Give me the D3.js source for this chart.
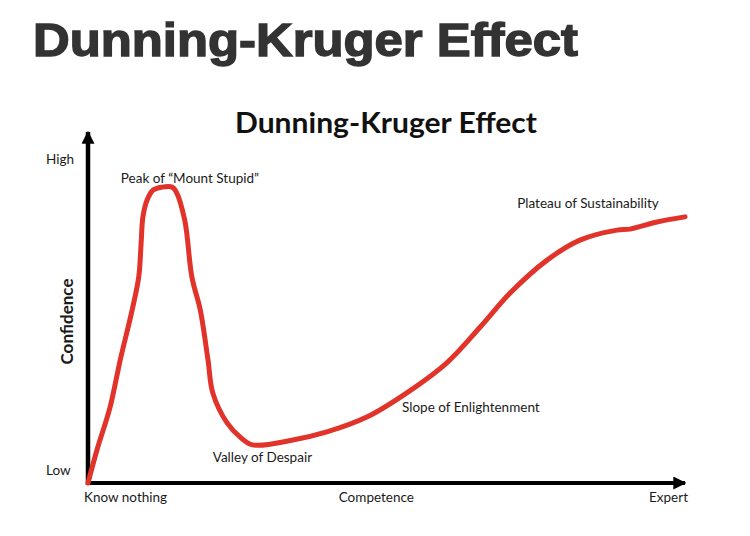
<!DOCTYPE html>
<html>
<head>
<meta charset="utf-8">
<script src="https://cdn.jsdelivr.net/npm/d3@7"></script>
<style>
  body { margin: 0; background: #fff; }
  svg { display: block; }
  .lbl { font-family: Lato, "Open Sans", sans-serif; font-size: 13.5px; fill: #1a1a1a; }
</style>
</head>
<body>
<svg width="750" height="536"></svg>
<script>
// curve (competence 0-100, confidence 0-100)
var competence = [0, 1.5, 3.7, 5.4, 7.4, 8.5, 8.9, 9.2, 9.9, 10.9, 12.4, 14.1, 14.7, 16.2, 17.4, 18.8, 20.1, 20.9, 23.3, 25.5, 27.6, 34.3, 40.0, 46.7, 53.4, 60.1, 65.7, 70.7, 76.9, 82.4, 88.6, 90.8, 95.3, 100];
var confidence = [0, 10.2, 23.5, 38.1, 53.6, 63.8, 74.3, 82.4, 87.6, 90.7, 91.6, 91.6, 90.4, 81.4, 63.8, 53.6, 38.1, 27.9, 18.6, 14.2, 11.8, 13.3, 15.8, 20.4, 27.9, 37.2, 48.3, 58.8, 69.0, 75.2, 78.3, 78.6, 80.8, 82.4];

var xTickLabels = ["Know nothing", "Competence", "Expert"];
var yTickLabels = ["Low", "High"];

// stage names and where they sit (data units)
var stageNames = ["Peak of \u201cMount Stupid\u201d", "Valley of Despair", "Slope of Enlightenment", "Plateau of Sustainability"];
var stageX = [5.5, 20.9, 52.6, 71.9];
var stageY = [92.9, 6.5, 22.0, 85.1];

var svg = d3.select("svg");

var x = d3.scaleLinear().domain([0, 100]).range([88, 685]),
    y = d3.scaleLinear().domain([0, 100]).range([483, 160]);

var data = competence.map(function(c, i) { return {c: c, v: confidence[i]}; });

// page heading
svg.append("text")
    .attr("x", 33)
    .attr("y", 56)
    .attr("textLength", 545)
    .attr("lengthAdjust", "spacingAndGlyphs")
    .style("font-family", "'Liberation Sans', Arial, sans-serif")
    .style("font-weight", "bold")
    .style("font-size", "46px")
    .style("fill", "#333")
    .style("stroke", "#333")
    .style("stroke-width", "1.4px")
    .text("Dunning-Kruger Effect");

// chart title
svg.append("text")
    .attr("x", 235)
    .attr("y", 133)
    .attr("textLength", 302)
    .attr("lengthAdjust", "spacingAndGlyphs")
    .style("font-family", "Lato, 'Open Sans', sans-serif")
    .style("font-weight", "bold")
    .style("font-size", "28px")
    .style("fill", "#111")
    .text("Dunning-Kruger Effect");

//Arrow head marker
var defs = svg.append("defs");
defs.append("marker")
    .attr("id", "arrow")
    .attr("viewBox", "0 0 10 10")
    .attr("refX", 9)
    .attr("refY", 5)
    .attr("markerUnits", "userSpaceOnUse")
    .attr("markerWidth", 13)
    .attr("markerHeight", 13)
    .attr("orient", "auto")
  .append("path")
    .attr("d", "M0,0L10,5L0,10Z")
    .attr("fill", "#000");

// axes
svg.append("line")
    .attr("x1", x(0)).attr("y1", y(0) + 2)
    .attr("x2", x(0)).attr("y2", 132)
    .attr("stroke", "#000")
    .attr("stroke-width", 4.5)
    .attr("marker-end", "url(#arrow)");

svg.append("line")
    .attr("x1", x(0) - 2).attr("y1", y(0))
    .attr("x2", x(100)).attr("y2", y(0))
    .attr("stroke", "#000")
    .attr("stroke-width", 4)
    .attr("marker-end", "url(#arrow)");

// y labels
svg.selectAll(".ylbl")
    .data(yTickLabels)
    .enter().append("text")
    .attr("class", "lbl ylbl")
    .attr("x", 46)
    .attr("y", function(d, i) { return i === 0 ? y(0) - 8 : y(100) + 4; })
    .text(function(d) { return d; });

svg.append("text")
    .attr("class", "lbl")
    .attr("transform", "translate(73," + y(50) + ") rotate(-90)")
    .attr("text-anchor", "middle")
    .style("font-weight", "bold")
    .style("font-size", "17px")
    .text("Confidence");

// x labels
svg.selectAll(".xlbl")
    .data(xTickLabels)
    .enter().append("text")
    .attr("class", "lbl xlbl")
    .attr("x", function(d, i) { return [x(0) - 4, x(48.3), x(100) + 3][i]; })
    .attr("y", y(0) + 19)
    .attr("text-anchor", function(d, i) { return ["start", "middle", "end"][i]; })
    .text(function(d) { return d; });

// the curve
var line = d3.line()
    .curve(d3.curveCatmullRom.alpha(0.5))
    .x(function(d) { return x(d.c); })
    .y(function(d) { return y(d.v); });

svg.append("path")
    .datum(data)
    .attr("fill", "none")
    .attr("stroke", "#e2332a")
    .attr("stroke-width", 5)
    .attr("stroke-linecap", "round")
    .attr("stroke-linejoin", "round")
    .attr("d", line);

// stage annotations
svg.selectAll(".stage")
    .data(stageNames)
    .enter().append("text")
    .attr("class", "lbl stage")
    .attr("x", function(d, i) { return x(stageX[i]); })
    .attr("y", function(d, i) { return y(stageY[i]); })
    .text(function(d) { return d; });
</script>
</body>
</html>
